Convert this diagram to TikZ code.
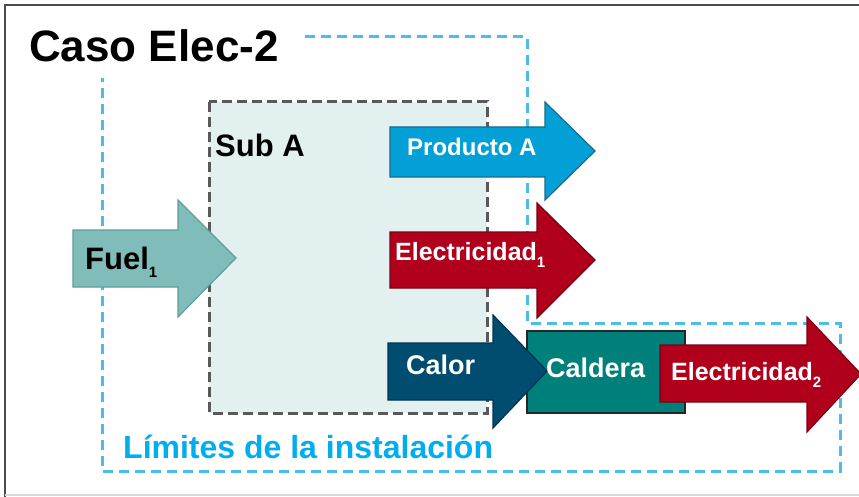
\documentclass[tikz,border=0pt]{standalone}
\usepackage{fontspec}
\setmainfont{Liberation Sans}
\definecolor{fuelfill}{HTML}{80BDBA}
\definecolor{fueldraw}{HTML}{5E9E9B}
\definecolor{prodfill}{HTML}{02A0D6}
\definecolor{proddraw}{HTML}{1A6A8A}
\definecolor{elecfill}{HTML}{B1001C}
\definecolor{elecdraw}{HTML}{7A0012}
\definecolor{calfill}{HTML}{004D70}
\definecolor{caldraw}{HTML}{003350}
\definecolor{caldfill}{HTML}{00807A}
\definecolor{subfill}{HTML}{E2F0F0}
\definecolor{limblue}{HTML}{4CBDE6}
\definecolor{limtext}{HTML}{00AEEF}
\newcommand\sbs[1]{\raisebox{-0.28em}{\fontsize{15}{15}\selectfont #1}}
\tikzset{
  blockarrow/.style={line width=1.2pt, line join=miter},
  lbl/.style={inner sep=0pt, anchor=base west, font=\bfseries},
  boundary/.style={draw=limblue, line width=3pt, dash pattern=on 10pt off 6pt},
  subbox/.style={draw=black!65, fill=subfill, line width=3pt, dash pattern=on 10pt off 5pt}
}
\begin{document}
\begin{tikzpicture}[x=1pt,y=-1pt]
\useasboundingbox (0,0) rectangle (859,497);
\fill[white] (0,0) rectangle (859,497);
% frame
\draw[black!70, line width=2pt] (5,497) -- (5,5) -- (859,5);
\draw[black!15, line width=1.5pt] (5,495) -- (859,495);
% Sub A box
\draw[subbox] (209,102) rectangle (487,413);
% installation boundary
\draw[boundary] (305,37) -- (527,37) -- (527,323) -- (840,323) -- (840,471) -- (102,471) -- (102,78);
% arrows
\filldraw[blockarrow, fill=fuelfill, draw=fueldraw]
  (73,230) -- (178,230) -- (178,200) -- (236,258) -- (178,317) -- (178,287) -- (73,287) -- cycle;
\filldraw[blockarrow, fill=prodfill, draw=proddraw]
  (390,127) -- (545,127) -- (545,102) -- (595,151) -- (545,200) -- (545,177) -- (390,177) -- cycle;
\filldraw[blockarrow, fill=elecfill, draw=elecdraw]
  (390,232) -- (537,232) -- (537,203) -- (595,260) -- (537,318) -- (537,288) -- (390,288) -- cycle;
\filldraw[line width=1.5pt, fill=caldfill, draw=black!85] (527,331) rectangle (685,413);
\filldraw[blockarrow, fill=calfill, draw=caldraw]
  (388,343) -- (493,343) -- (493,315) -- (547,371) -- (493,428) -- (493,400) -- (388,400) -- cycle;
\filldraw[blockarrow, fill=elecfill, draw=elecdraw]
  (660,345) -- (807,345) -- (807,317) -- (861,374) -- (807,432) -- (807,402) -- (660,402) -- cycle;
% texts
\node[lbl, font=\bfseries\fontsize{44}{48}\selectfont] (title) at (29,62) {Caso Elec-2};
\node[lbl, font=\bfseries\fontsize{31}{34}\selectfont] (suba) at (215,157) {Sub A};
\node[lbl, text=white, font=\bfseries\fontsize{24}{28}\selectfont] (prod) at (407,156) {Producto A};
\node[lbl, text=white, font=\bfseries\fontsize{25}{28}\selectfont] (elec1) at (395,260) {Electricidad\sbs{1}};
\node[lbl, font=\bfseries\fontsize{31}{34}\selectfont] (fuel) at (85,269) {Fuel\sbs{1}};
\node[lbl, text=white, font=\bfseries\fontsize{27}{30}\selectfont] (calor) at (406,374) {Calor};
\node[lbl, text=white, font=\bfseries\fontsize{27}{30}\selectfont] (caldera) at (546,377) {Caldera};
\node[lbl, text=white, font=\bfseries\fontsize{25}{29}\selectfont] (elec2) at (671,380) {Electricidad\sbs{2}};
\node[lbl, text=limtext, font=\bfseries\fontsize{32}{35}\selectfont] (limits) at (123,458) {Límites de la instalación};
\end{tikzpicture}
\end{document}
